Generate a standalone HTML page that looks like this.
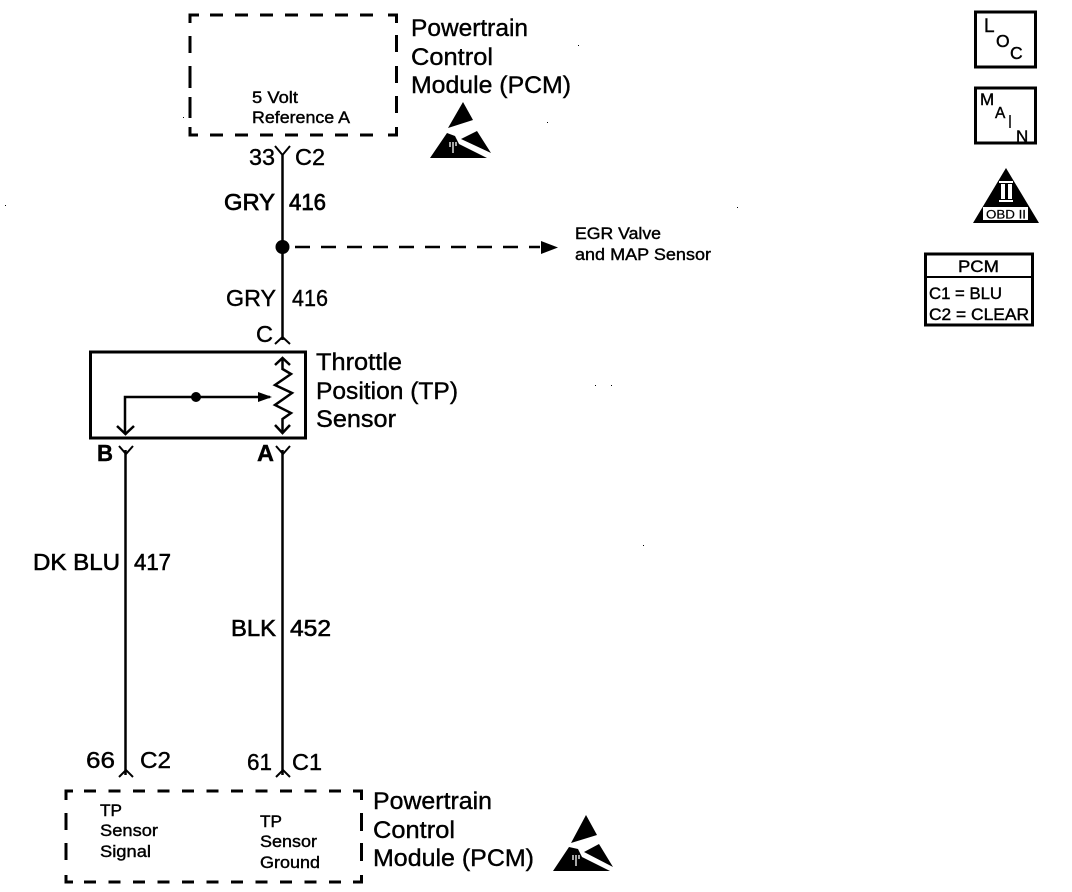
<!DOCTYPE html>
<html><head><meta charset="utf-8"><style>
html,body{margin:0;padding:0;background:#fff}
svg{display:block}
text{font-family:"Liberation Sans",sans-serif;fill:#000;stroke:#000;stroke-width:.4}
</style></head><body>
<svg width="1072" height="892" viewBox="0 0 1072 892" xmlns="http://www.w3.org/2000/svg">
<g fill="none" stroke="#000" stroke-width="3">
<!-- top PCM dashed -->
<path d="M190 23V15H199"/>
<path d="M388 15H396.500V23"/>
<path d="M190 127V135H198"/>
<path d="M388 135H396.500V127"/>
<path d="M210 15H385" stroke-dasharray="13 12"/>
<path d="M210 135H385" stroke-dasharray="13 12"/>
<path d="M190 36V53M190 66V88M190 97V118"/>
<path d="M396.500 35V52M396.500 66V83M396.500 96V113"/>
<!-- bottom PCM dashed -->
<path d="M66 800V791H73"/>
<path d="M353 791H361.500V800"/>
<path d="M66 875V882H73"/>
<path d="M353 882H361.500V875"/>
<path d="M84 791H350" stroke-dasharray="12 12.500"/>
<path d="M84 882H350" stroke-dasharray="12 12.500"/>
<path d="M66 813V830M66 843V860"/>
<path d="M361.500 813V831M361.500 843V861"/>
<!-- TP sensor -->
<rect x="90.500" y="352" width="215" height="86"/>
</g>
<g fill="none" stroke="#000" stroke-width="2.500">
<path d="M282.500 155V340"/>
<path d="M125.500 450V775"/>
<path d="M282.500 450V775"/>
<!-- connectors -->
<path d="M275 146L282.500 155L290 146" stroke-width="2"/>
<path d="M275 344L282.500 337L290 344" stroke-width="2"/>
<path d="M119 446L126 454L133 446" stroke-width="2"/>
<path d="M276 446L283 454L290 446" stroke-width="2"/>
<path d="M119 777L126 770L133 777" stroke-width="2"/>
<path d="M276 777L283 770L290 777" stroke-width="2"/>
<!-- dashed branch -->
<path d="M283 247H540" stroke-dasharray="15 11" stroke-dashoffset="-12"/>
<!-- sensor internals -->
<path d="M125 433V397H270"/>
<path d="M117 426L125.500 434L134 426"/>
<path d="M282.500 358V369L291 374L275 385L292 393L275 405L291 413L282.500 419V432"/>
<path d="M275 365L282.500 358L290 365"/>
<path d="M275 425L282.500 433L290 425"/>
</g>
<circle cx="282.500" cy="247" r="7"/>
<circle cx="196" cy="397" r="5"/>
<path d="M258 392L272 397L258 402Z"/>
<path d="M541 241L558 247.500L541 254Z"/>

<!-- ESD top -->
<path d="M463 102L473 120L448 128Z"/>
<path d="M447 133L430 158H487L459 144L455 136Z"/>
<path d="M477 131L491 153L461 139Z"/>
<path d="M450 147V142M453 153V142M456 146V142" stroke="#fff" stroke-width="1.300" fill="none"/>
<!-- ESD bottom -->
<path d="M586 815L597 835L571 843Z"/>
<path d="M569 847L553 871H610L582 857L578 849Z"/>
<path d="M599 844L613 867L584 852Z"/>
<path d="M573 860V855M576 866V855M579 859V855" stroke="#fff" stroke-width="1.300" fill="none"/>

<!-- Text top -->
<text x="411" y="36" font-size="24.500" textLength="117" lengthAdjust="spacingAndGlyphs">Powertrain</text>
<text x="411" y="65" font-size="24.500" textLength="82" lengthAdjust="spacingAndGlyphs">Control</text>
<text x="411" y="93" font-size="24.500" textLength="160" lengthAdjust="spacingAndGlyphs">Module (PCM)</text>
<text x="252" y="103" font-size="16.500" textLength="46" lengthAdjust="spacingAndGlyphs">5 Volt</text>
<text x="252" y="123" font-size="16.500" textLength="98" lengthAdjust="spacingAndGlyphs">Reference A</text>
<text x="249" y="165" font-size="23.500" textLength="26" lengthAdjust="spacingAndGlyphs">33</text>
<text x="295" y="165" font-size="23.500" textLength="30" lengthAdjust="spacingAndGlyphs">C2</text>
<text x="224" y="210" font-size="23.500" textLength="51" lengthAdjust="spacingAndGlyphs" stroke-width=".7" style="stroke-width:.7">GRY</text>
<text x="289" y="210" font-size="23.500" textLength="37" lengthAdjust="spacingAndGlyphs" style="stroke-width:.7">416</text>
<text x="226" y="306" font-size="23.500" textLength="50" lengthAdjust="spacingAndGlyphs">GRY</text>
<text x="292" y="306" font-size="23.500" textLength="36" lengthAdjust="spacingAndGlyphs">416</text>
<text x="256" y="342" font-size="23.500" textLength="17" lengthAdjust="spacingAndGlyphs">C</text>
<text x="575" y="239" font-size="16.500" textLength="86" lengthAdjust="spacingAndGlyphs">EGR Valve</text>
<text x="575" y="260" font-size="16.500" textLength="136" lengthAdjust="spacingAndGlyphs">and MAP Sensor</text>
<text x="316" y="370" font-size="24.500" textLength="86" lengthAdjust="spacingAndGlyphs">Throttle</text>
<text x="316" y="399" font-size="24.500" textLength="142" lengthAdjust="spacingAndGlyphs">Position (TP)</text>
<text x="316" y="427" font-size="24.500" textLength="80" lengthAdjust="spacingAndGlyphs">Sensor</text>
<text x="97" y="461" font-size="23" font-weight="bold" textLength="16" lengthAdjust="spacingAndGlyphs">B</text>
<text x="257" y="461" font-size="23" font-weight="bold" textLength="17" lengthAdjust="spacingAndGlyphs">A</text>
<text x="33" y="570" font-size="23.500" textLength="87" lengthAdjust="spacingAndGlyphs" style="stroke-width:.6">DK BLU</text>
<text x="134" y="570" font-size="23.500" textLength="37" lengthAdjust="spacingAndGlyphs" style="stroke-width:.6">417</text>
<text x="231" y="636" font-size="23.500" textLength="45" lengthAdjust="spacingAndGlyphs" style="stroke-width:.6">BLK</text>
<text x="290" y="636" font-size="23.500" textLength="41" lengthAdjust="spacingAndGlyphs" style="stroke-width:.6">452</text>
<text x="86" y="768" font-size="23.500" textLength="29" lengthAdjust="spacingAndGlyphs">66</text>
<text x="140" y="768" font-size="23.500" textLength="31" lengthAdjust="spacingAndGlyphs">C2</text>
<text x="247" y="770" font-size="23.500" textLength="25" lengthAdjust="spacingAndGlyphs">61</text>
<text x="292" y="770" font-size="23.500" textLength="30" lengthAdjust="spacingAndGlyphs">C1</text>
<!-- Text bottom -->
<text x="373" y="809" font-size="24.500" textLength="119" lengthAdjust="spacingAndGlyphs">Powertrain</text>
<text x="373" y="838" font-size="24.500" textLength="82" lengthAdjust="spacingAndGlyphs">Control</text>
<text x="373" y="866" font-size="24.500" textLength="161" lengthAdjust="spacingAndGlyphs">Module (PCM)</text>
<text x="100" y="816" font-size="16.500" textLength="22" lengthAdjust="spacingAndGlyphs">TP</text>
<text x="100" y="836" font-size="16.500" textLength="58" lengthAdjust="spacingAndGlyphs">Sensor</text>
<text x="100" y="857" font-size="16.500" textLength="51" lengthAdjust="spacingAndGlyphs">Signal</text>
<text x="260" y="827" font-size="16.500" textLength="22" lengthAdjust="spacingAndGlyphs">TP</text>
<text x="260" y="847" font-size="16.500" textLength="57" lengthAdjust="spacingAndGlyphs">Sensor</text>
<text x="260" y="868" font-size="16.500" textLength="60" lengthAdjust="spacingAndGlyphs">Ground</text>

<!-- LOC -->
<rect x="975.500" y="12" width="60" height="55" fill="none" stroke="#000" stroke-width="3"/>
<text x="984" y="32" font-size="19">L</text>
<text x="996" y="47" font-size="17.500">O</text>
<text x="1010" y="59" font-size="17.500">C</text>
<!-- MAIN -->
<rect x="975.500" y="88" width="60" height="55" fill="none" stroke="#000" stroke-width="3"/>
<text x="980" y="105" font-size="17">M</text>
<text x="995" y="118" font-size="15.500">A</text>
<path d="M1010 115V128" stroke="#000" stroke-width="1.500"/>
<text x="1016" y="142" font-size="17">N</text>
<!-- OBD II -->
<path d="M1006 168L1039 223H973Z"/>
<rect x="999" y="181" width="14" height="2" fill="#fff"/>
<rect x="1001" y="184" width="4" height="15" fill="#fff"/>
<rect x="1008" y="184" width="4" height="15" fill="#fff"/>
<rect x="999" y="200" width="14" height="2" fill="#fff"/>
<rect x="983" y="207" width="45" height="13" fill="#fff"/>
<text x="986" y="218.500" font-size="12" style="stroke-width:.2" textLength="40" lengthAdjust="spacingAndGlyphs">OBD II</text>
<!-- PCM table -->
<rect x="925.500" y="254" width="107" height="71" fill="none" stroke="#000" stroke-width="3"/>
<path d="M925 277H1033" stroke="#000" stroke-width="2"/>
<text x="958" y="272" font-size="17" textLength="41" lengthAdjust="spacingAndGlyphs">PCM</text>
<text x="929" y="299" font-size="16.500" textLength="73" lengthAdjust="spacingAndGlyphs">C1 = BLU</text>
<text x="929" y="320" font-size="16.500" textLength="100" lengthAdjust="spacingAndGlyphs">C2 = CLEAR</text>
<!-- specks -->
<g fill="#000">
<rect x="578" y="45" width="1" height="1"/><rect x="530" y="90" width="1" height="1"/><rect x="737" y="207" width="1" height="1"/>
<rect x="5" y="205" width="1" height="1"/><rect x="183" y="117" width="1" height="1"/><rect x="595" y="385" width="1" height="1"/>
<rect x="611" y="385" width="1" height="1"/><rect x="643" y="545" width="1" height="1"/><rect x="547" y="122" width="1" height="1"/>
</g>
</svg>
</body></html>
